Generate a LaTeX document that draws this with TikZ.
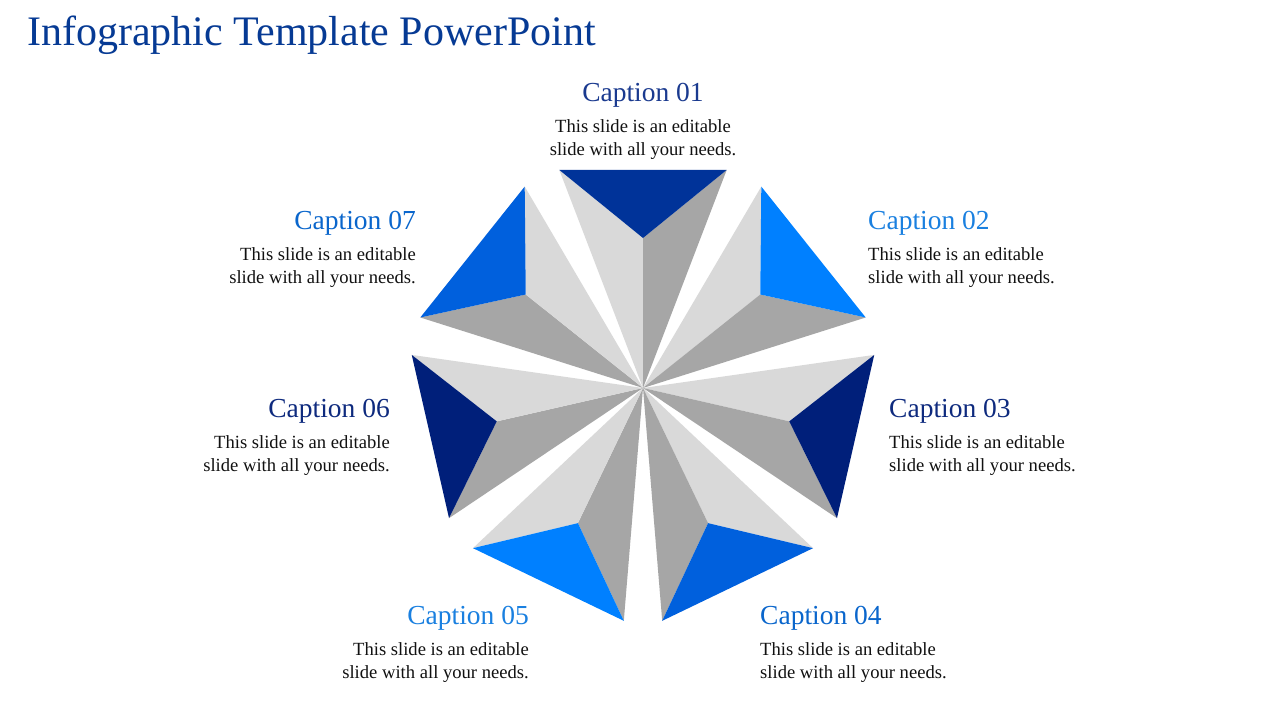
\documentclass[tikz,border=0pt]{standalone}
\usepackage{fontspec}
\setmainfont{Liberation Serif}
\definecolor{titleblue}{HTML}{063A94}
\definecolor{segA}{HTML}{003399}
\definecolor{segB}{HTML}{0080FF}
\definecolor{segC}{HTML}{001F7A}
\definecolor{segD}{HTML}{0060DD}
\definecolor{capA}{HTML}{1A3A8F}
\definecolor{capB}{HTML}{1A80E0}
\definecolor{capC}{HTML}{0E2A7E}
\definecolor{capD}{HTML}{0A66CC}
\definecolor{lightg}{HTML}{D9D9D9}
\definecolor{darkg}{HTML}{A6A6A6}
\definecolor{bodytxt}{HTML}{111111}
\tikzset{
  captxt/.style={font=\fontsize{27.5}{30}\selectfont, inner sep=0pt, anchor=base},
  bodyln/.style={font=\fontsize{18.6}{23}\selectfont, text=bodytxt, inner sep=0pt, anchor=base},
}
\begin{document}
\begin{tikzpicture}[x=1pt,y=-1pt]
\useasboundingbox (0,0) rectangle (1280,720);
\fill[white] (0,0) rectangle (1280,720);
\node[font=\fontsize{42}{46}\selectfont, text=titleblue, inner sep=0pt, anchor=base west] (title) at (27,45) {Infographic Template PowerPoint};
\def\cx{643}\def\cy{388}\def\R{233.6}\def\r{150}
\coordinate (ctr) at (\cx,\cy);
\foreach \k/\col/\la/\lb in {0/segA/lightg/darkg,1/segB/lightg/darkg,2/segC/lightg/darkg,3/segD/lightg/darkg,4/segB/darkg/lightg,5/segC/darkg/lightg,6/segD/darkg/lightg}{
  \pgfmathsetmacro{\t}{\k*360/7}
  \coordinate (A\k) at ({\cx+\R*sin(\t-21)},{\cy-\R*cos(\t-21)});
  \coordinate (B\k) at ({\cx+\R*sin(\t+21)},{\cy-\R*cos(\t+21)});
  \coordinate (M\k) at ({\cx+\r*sin(\t)},{\cy-\r*cos(\t)});
  \fill[\la] (ctr) -- (A\k) -- (M\k) -- cycle;
  \fill[\lb] (ctr) -- (M\k) -- (B\k) -- cycle;
  \fill[\col] (A\k) -- (M\k) -- (B\k) -- cycle;
}
% Caption 01
\node[captxt, text=capA] (c1) at (643,101) {Caption 01};
\node[bodyln] (c1a) at (643,132) {This slide is an editable};
\node[bodyln] (c1b) at (643,155) {slide with all your needs.};
% Caption 02
\node[captxt, text=capB, anchor=base west] (c2) at (868,229) {Caption 02};
\node[bodyln, anchor=base west] (c2a) at (868,260) {This slide is an editable};
\node[bodyln, anchor=base west] (c2b) at (868,283) {slide with all your needs.};
% Caption 03
\node[captxt, text=capC, anchor=base west] (c3) at (889,417) {Caption 03};
\node[bodyln, anchor=base west] (c3a) at (889,448) {This slide is an editable};
\node[bodyln, anchor=base west] (c3b) at (889,471) {slide with all your needs.};
% Caption 04
\node[captxt, text=capD, anchor=base west] (c4) at (760,624) {Caption 04};
\node[bodyln, anchor=base west] (c4a) at (760,655) {This slide is an editable};
\node[bodyln, anchor=base west] (c4b) at (760,678) {slide with all your needs.};
% Caption 05
\node[captxt, text=capB, anchor=base east] (c5) at (529,624) {Caption 05};
\node[bodyln, anchor=base east] (c5a) at (529,655) {This slide is an editable};
\node[bodyln, anchor=base east] (c5b) at (529,678) {slide with all your needs.};
% Caption 06
\node[captxt, text=capC, anchor=base east] (c6) at (390,417) {Caption 06};
\node[bodyln, anchor=base east] (c6a) at (390,448) {This slide is an editable};
\node[bodyln, anchor=base east] (c6b) at (390,471) {slide with all your needs.};
% Caption 07
\node[captxt, text=capD, anchor=base east] (c7) at (416,229) {Caption 07};
\node[bodyln, anchor=base east] (c7a) at (416,260) {This slide is an editable};
\node[bodyln, anchor=base east] (c7b) at (416,283) {slide with all your needs.};
\end{tikzpicture}
\end{document}
